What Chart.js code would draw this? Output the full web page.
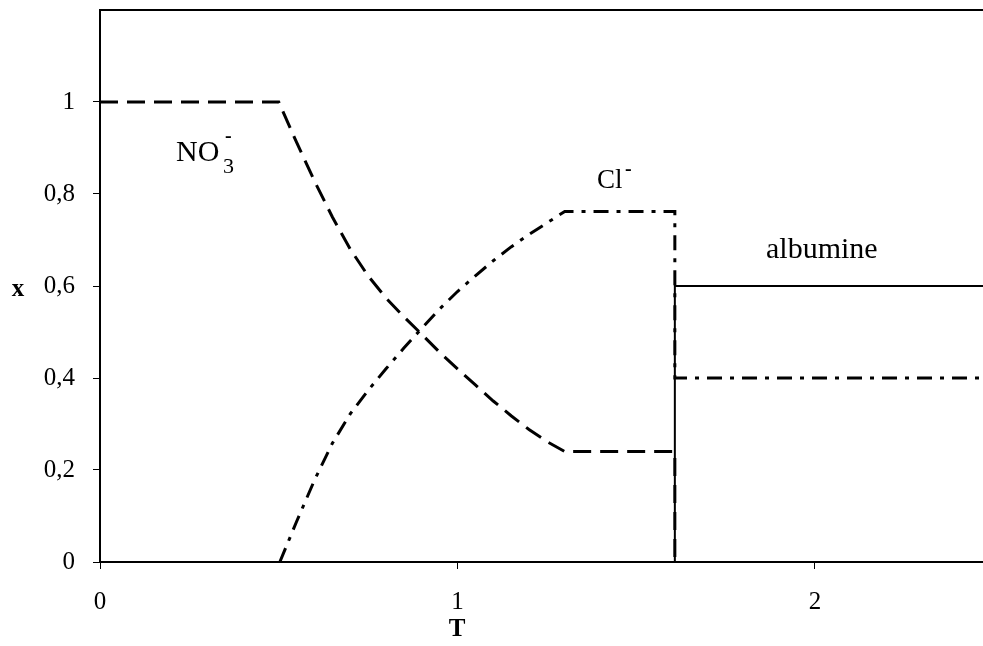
<!DOCTYPE html>
<html lang="fr">
<head>
    <meta charset="UTF-8">
    <title>Fractions x en fonction de T</title>
    <script src="https://cdn.jsdelivr.net/npm/chart.js"></script>
<style>
    body {
        margin: 0;
        background-color: #ffffff;
    }
    #box {
        width: 983px;
        height: 646px;
    }
</style>
</head>
<body>
    <div id="box"><canvas id="xChart"></canvas></div>

    <script>
        // values
        const xTicks = [0, 1, 2];
        const yTicks = [0, 0.2, 0.4, 0.6, 0.8, 1];

        const no3T = [0, 0.5, 0.55, 0.6, 0.65, 0.7, 0.75, 0.8, 0.85, 0.9, 0.95, 1.0, 1.05, 1.1, 1.15, 1.2, 1.25, 1.3, 1.608, 1.608];
        const no3X = [1, 1, 0.912, 0.828, 0.75, 0.68, 0.622, 0.574, 0.533, 0.495, 0.456, 0.42, 0.385, 0.35, 0.318, 0.288, 0.262, 0.24, 0.24, 0];

        const clT = [0.503, 0.55, 0.6, 0.65, 0.7, 0.75, 0.8, 0.85, 0.9, 0.95, 1.0, 1.05, 1.1, 1.15, 1.2, 1.25, 1.3, 1.608, 1.608, 2.47];
        const clX = [0, 0.088, 0.178, 0.258, 0.322, 0.373, 0.42, 0.465, 0.508, 0.55, 0.588, 0.622, 0.655, 0.685, 0.712, 0.737, 0.762, 0.762, 0.4, 0.4];

        const albT = [1.608, 1.608, 2.47];
        const albX = [0, 0.6, 0.6];

        const toPts = (ts, xs) => ts.map((t, i) => ({ x: t, y: xs[i] }));
        const serif = '"Liberation Serif", "DejaVu Serif", serif';

        // frame top line, axis titles and curve labels
        const extras = {
            id: 'extras',
            afterDraw(chart) {
                const c = chart.ctx;
                const a = chart.chartArea;
                c.save();
                c.strokeStyle = '#000';
                c.lineWidth = 2;
                c.beginPath();
                c.moveTo(a.left, a.top);
                c.lineTo(a.right, a.top);
                c.stroke();

                c.fillStyle = '#000';
                c.textBaseline = 'middle';
                c.textAlign = 'center';
                c.font = 'bold 25px ' + serif;
                c.fillText('x', 18, 290);
                c.fillText('T', 457, 630);

                c.textAlign = 'left';
                c.textBaseline = 'alphabetic';
                c.font = '30px ' + serif;
                c.fillText('NO', 176, 161);
                c.fillText('albumine', 766, 258);
                c.font = '27px ' + serif;
                c.fillText('Cl', 597, 188);
                c.font = '22px ' + serif;
                c.fillText('3', 223, 173);
                c.font = 'bold 20px ' + serif;
                c.fillText('-', 225, 142);
                c.fillText('-', 625, 175);
                c.restore();
            }
        };

        const ctx = document.getElementById('xChart').getContext('2d');
        new Chart(ctx, {
            type: 'scatter',
            data: {
                datasets: [
                    {
                        label: 'albumine',
                        data: toPts(albT, albX),
                        showLine: true,
                        borderColor: '#000',
                        borderWidth: 2,
                        pointRadius: 0
                    },
                    {
                        label: 'NO3-',
                        data: toPts(no3T, no3X),
                        showLine: true,
                        borderColor: '#000',
                        borderWidth: 3,
                        borderDash: [18, 9],
                        pointRadius: 0
                    },
                    {
                        label: 'Cl-',
                        data: toPts(clT, clX),
                        showLine: true,
                        borderColor: '#000',
                        borderWidth: 3,
                        borderDash: [15, 8, 4, 8],
                        pointRadius: 0
                    }
                ]
            },
            options: {
                responsive: true,
                maintainAspectRatio: false,
                animation: false,
                layout: { padding: { top: 10, right: 0, left: 0, bottom: 0 } },
                plugins: {
                    legend: { display: false },
                    tooltip: { enabled: false }
                },
                scales: {
                    x: {
                        type: 'linear',
                        min: 0,
                        max: 2.47,
                        afterBuildTicks: s => { s.ticks = xTicks.map(v => ({ value: v })); },
                        afterFit: s => { s.height = 84; s.paddingLeft = 0; s.paddingRight = 0; },
                        grid: { drawOnChartArea: false, drawTicks: true, tickLength: 7, color: '#000' },
                        border: { color: '#000', width: 2 },
                        ticks: {
                            color: '#000',
                            padding: 18,
                            maxRotation: 0,
                            font: { family: serif, size: 25 },
                            callback: v => String(v)
                        }
                    },
                    y: {
                        min: 0,
                        max: 1.2,
                        afterBuildTicks: s => { s.ticks = yTicks.map(v => ({ value: v })); },
                        afterFit: s => { s.width = 100; s.paddingTop = 0; s.paddingBottom = 0; },
                        grid: { drawOnChartArea: false, drawTicks: true, tickLength: 7, color: '#000' },
                        border: { color: '#000', width: 2 },
                        ticks: {
                            color: '#000',
                            padding: 18,
                            font: { family: serif, size: 25 },
                            callback: v => String(Math.round(v * 10) / 10).replace('.', ',')
                        }
                    }
                }
            },
            plugins: [extras]
        });
    </script>
</body>
</html>
